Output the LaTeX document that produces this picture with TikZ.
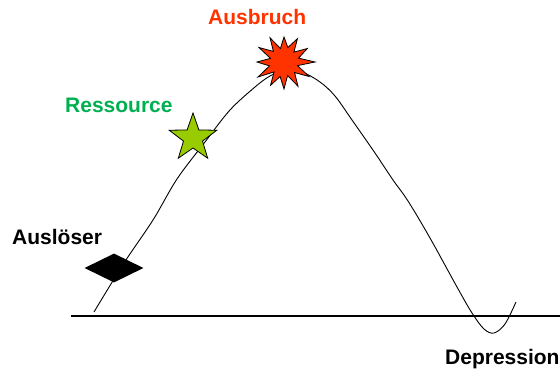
\documentclass[tikz,border=0pt]{standalone}
\usepackage{fontspec}
\setmainfont{Liberation Sans}
\usetikzlibrary{shapes.geometric}
\definecolor{burstred}{HTML}{FF3300}
\definecolor{resgreen}{HTML}{00B050}
\definecolor{stargreen}{HTML}{99CC00}
\tikzset{
  lbl/.style={font=\fontsize{21}{24}\selectfont\bfseries, inner sep=0pt, anchor=base west},
  curve/.style={line width=0.9pt, black},
}
\begin{document}
\begin{tikzpicture}[x=1pt,y=-1pt]
\useasboundingbox (0,0) rectangle (560,371);
% baseline
\coordinate (b0) at (71,316);
\coordinate (b1) at (560,316);
\draw[line width=1.4pt] (b0) -- (b1);
% curve
\draw[curve] plot[smooth, tension=0.55] coordinates {(94,312) (124,263) (153,220) (177,179) (205,142) (230,110) (255,87) (270,76) (285,70) (302,72) (320,82) (335,96) (352,120) (375,153) (393,180) (408,201) (430,238) (457,287) (472,313) (484,329) (494,333) (505,324) (516,302)};
% markers
\node[diamond, fill=black, inner sep=0pt, minimum width=59pt, minimum height=29pt] (trig) at (114,268) {};
\node[star, star points=5, star point ratio=2.5, minimum size=50pt, inner sep=0pt, fill=stargreen, draw=black, line width=0.8pt] (res) at (193,138) {};
\coordinate (burst) at (284,62);
\draw[fill=burstred, line width=0.8pt, line join=miter]
  (burst) +(0:31pt) -- +(15:15pt) -- +(30:27pt) -- +(45:14pt) -- +(60:27pt) -- +(75:15pt)
  -- +(90:25pt) -- +(105:14pt) -- +(120:28pt) -- +(135:15pt) -- +(150:29pt) -- +(165:14pt)
  -- +(180:27pt) -- +(195:15pt) -- +(210:30pt) -- +(225:14pt) -- +(240:27pt) -- +(255:15pt)
  -- +(270:27pt) -- +(285:14pt) -- +(300:28pt) -- +(315:15pt) -- +(330:29pt) -- +(345:14pt) -- cycle;
% labels
\node[lbl, text=burstred] (tAus) at (208,25) {Ausbruch};
\node[lbl, text=resgreen] (tRes) at (65,113) {Ressource};
\node[lbl, text=black] (tTrig) at (12,245) {Auslöser};
\node[lbl, text=black] (tDep) at (445,365) {Depression};
\end{tikzpicture}
\end{document}
